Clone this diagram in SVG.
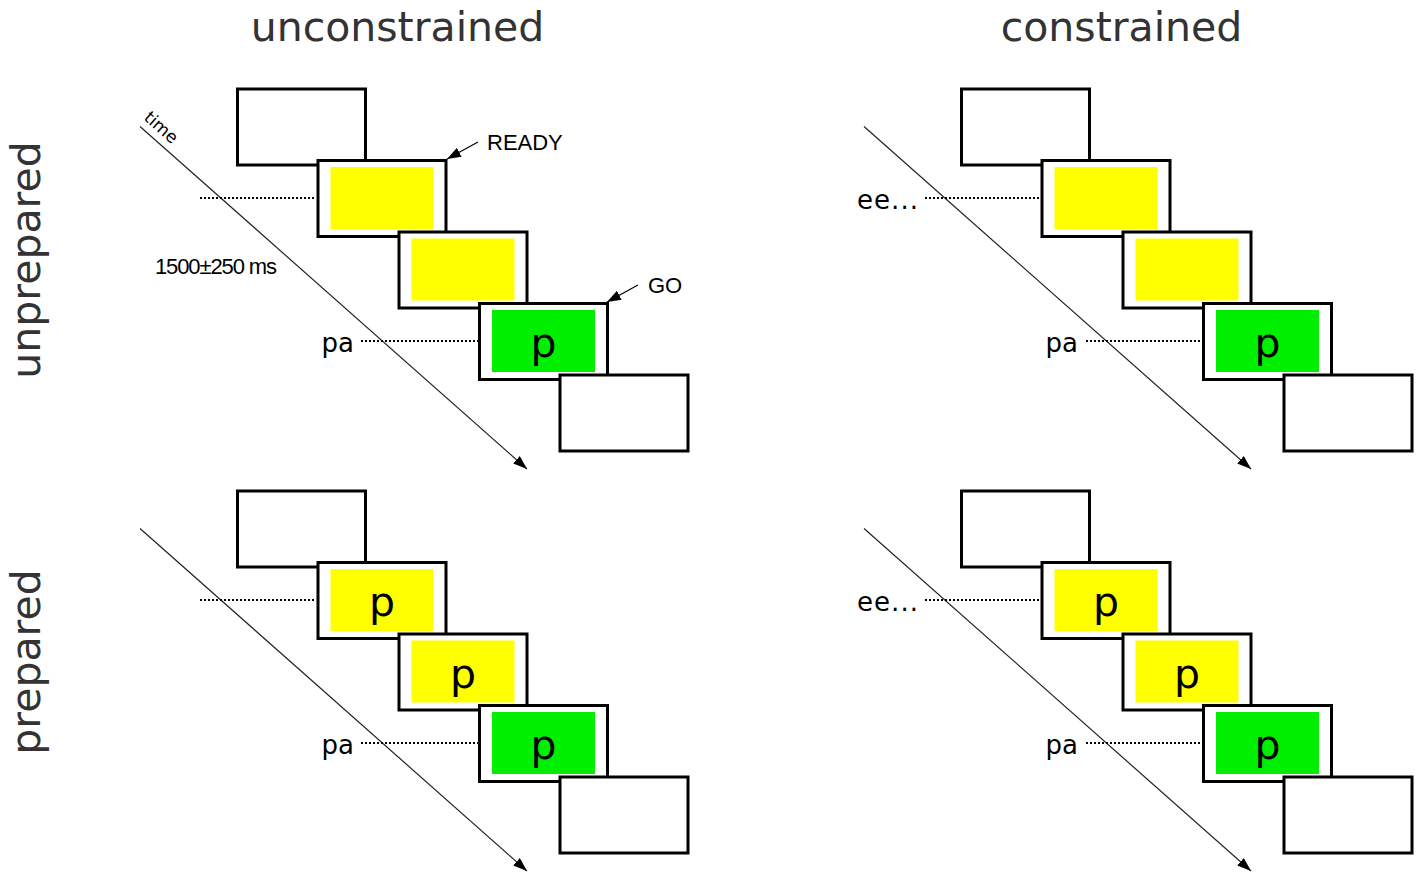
<svg xmlns="http://www.w3.org/2000/svg" width="1417" height="873" viewBox="0 0 1417 873">
<style>
.bx{fill:#fff;stroke:#000;stroke-width:3}
.y{fill:#ffff00}
.g{fill:#00ee00}
.tl{stroke:#222;stroke-width:1.2;fill:none}
.dot{stroke:#000;stroke-width:2;stroke-dasharray:2 2;fill:none}
.ttl{font-family:"DejaVu Sans",sans-serif;font-size:41px;fill:#333}
.lab{font-family:"DejaVu Sans",sans-serif;font-size:26px;fill:#000}
.pp{font-family:"DejaVu Sans",sans-serif;font-size:41px;fill:#000;text-anchor:middle}
.ann{font-family:"Liberation Sans",Arial,sans-serif;font-size:22px;fill:#000}
.ptr{stroke:#000;stroke-width:1.2;fill:none}
</style>
<defs>
<marker id="ah" viewBox="0 0 14 10" refX="14" refY="5" markerWidth="14" markerHeight="10" markerUnits="userSpaceOnUse" orient="auto">
<path d="M0,0 L14,5 L0,10 Z" fill="#000"/>
</marker>
<g id="stack">
<rect class="bx" x="237.5" y="89" width="128" height="76"/>
<rect class="bx" x="318" y="160.5" width="128" height="76"/>
<rect class="y" x="330.5" y="167" width="103" height="62"/>
<rect class="bx" x="399" y="232" width="128" height="76"/>
<rect class="y" x="411.5" y="238.5" width="103" height="62"/>
<rect class="bx" x="479.5" y="303.5" width="128" height="76"/>
<rect class="g" x="492" y="310" width="103" height="62"/>
<rect class="bx" x="560" y="375" width="128" height="76"/>
</g>
</defs>

<g id="titles">
<text class="ttl" x="397.5" y="41" text-anchor="middle">unconstrained</text>
<text class="ttl" x="1121.5" y="41" text-anchor="middle">constrained</text>
<text class="ttl" text-anchor="middle" transform="translate(40,260) rotate(-90)">unprepared</text>
<text class="ttl" text-anchor="middle" transform="translate(40,662) rotate(-90)">prepared</text>
</g>

<g id="panel-unconstrained-unprepared">
<use href="#stack"/>
<text class="pp" x="543.5" y="357">p</text>
<text class="ann" x="487" y="150">READY</text>
<text class="ann" x="648" y="293">GO</text>
<text class="ann" x="155" y="274" font-size="21" textLength="122">1500±250 ms</text>
<text class="lab" x="354" y="352" text-anchor="end">pa</text>
<text font-family="DejaVu Sans,sans-serif" font-size="17" transform="translate(143,119) rotate(41.5)">time</text>
</g>

<g id="panel-constrained-unprepared" transform="translate(724,0)">
<use href="#stack"/>
<text class="pp" x="543.5" y="357">p</text>
<text class="lab" x="133" y="209" font-size="27" textLength="61">ee...</text>
<text class="lab" x="354" y="352" text-anchor="end">pa</text>
</g>

<g id="panel-unconstrained-prepared" transform="translate(0,402)">
<use href="#stack"/>
<text class="pp" x="382" y="214">p</text>
<text class="pp" x="463" y="285.5">p</text>
<text class="pp" x="543.5" y="357">p</text>
<text class="lab" x="354" y="352" text-anchor="end">pa</text>
</g>

<g id="panel-constrained-prepared" transform="translate(724,402)">
<use href="#stack"/>
<text class="pp" x="382" y="214">p</text>
<text class="pp" x="463" y="285.5">p</text>
<text class="pp" x="543.5" y="357">p</text>
<text class="lab" x="133" y="209" font-size="27" textLength="61">ee...</text>
<text class="lab" x="354" y="352" text-anchor="end">pa</text>
</g>

<g id="connectors">
<line class="tl" x1="140" y1="126.5" x2="527" y2="469" marker-end="url(#ah)"/>
<line class="tl" x1="864" y1="126.5" x2="1251" y2="469" marker-end="url(#ah)"/>
<line class="tl" x1="140" y1="528.5" x2="527" y2="871" marker-end="url(#ah)"/>
<line class="tl" x1="864" y1="528.5" x2="1251" y2="871" marker-end="url(#ah)"/>
<line class="dot" x1="200" y1="198" x2="316" y2="198"/>
<line class="dot" x1="361" y1="341" x2="478" y2="341"/>
<line class="dot" x1="925" y1="198" x2="1040" y2="198"/>
<line class="dot" x1="1086" y1="341" x2="1202" y2="341"/>
<line class="dot" x1="200" y1="600" x2="316" y2="600"/>
<line class="dot" x1="361" y1="743" x2="478" y2="743"/>
<line class="dot" x1="925" y1="600" x2="1040" y2="600"/>
<line class="dot" x1="1086" y1="743" x2="1202" y2="743"/>
<line class="ptr" x1="478" y1="142" x2="447" y2="159" marker-end="url(#ah)"/>
<line class="ptr" x1="638" y1="285" x2="607" y2="302" marker-end="url(#ah)"/>
</g>
</svg>
